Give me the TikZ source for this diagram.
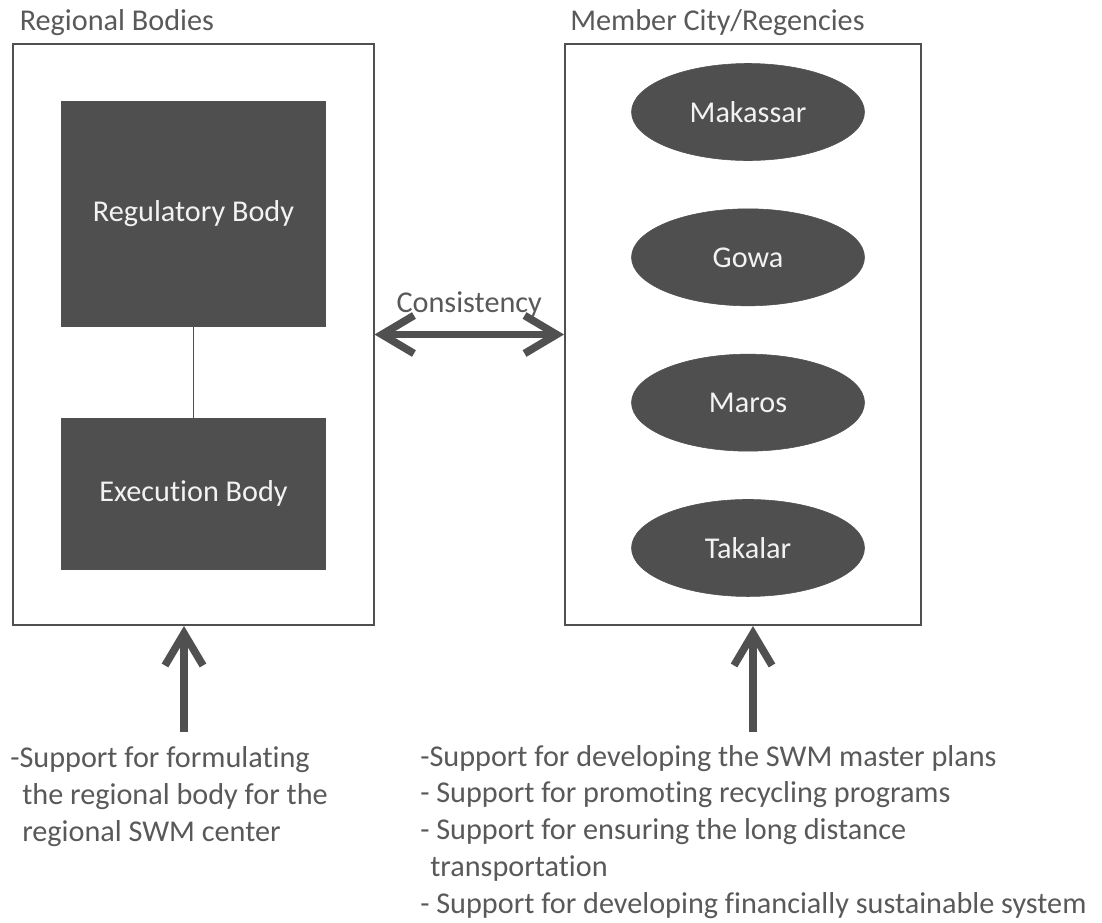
\documentclass[tikz,border=0pt]{standalone}
\usepackage{fontspec}
\setmainfont{Carlito}[Ligatures=NoCommon]
\usetikzlibrary{calc,shapes.geometric,arrows.meta}
\definecolor{txtgray}{HTML}{595959}
\definecolor{darkfill}{HTML}{4F4F4F}
\definecolor{linegray}{HTML}{505050}
\tikzstyle{nout} = [rectangle,draw=linegray,line width=0.05cm,minimum width=9cm,minimum height=14.525cm,inner sep=0pt]
\tikzstyle{ndark} = [rectangle,draw=linegray,fill=darkfill,text=white!95!black,minimum width=6.6cm,inner sep=0pt]
\tikzstyle{ncity} = [ellipse,draw=linegray,fill=darkfill,text=white!95!black,minimum width=5.825cm,minimum height=2.425cm,inner sep=0pt]
\tikzstyle{ntext} = [text=txtgray,anchor=base west,inner sep=0pt]
\tikzstyle{narr} = [draw=linegray,line width=0.19cm]

\begin{document}
\begin{tikzpicture}[font=\fontsize{21.5pt}{26.1pt}\selectfont,>={Straight Barb[length=0.8cm,width=0.95cm]}]
  \useasboundingbox (0,0) rectangle (27.55,-23.05);
  \node[nout](lb) at (4.8375,-8.3625) {};
  \node[nout,minimum width=8.9cm](rb) at (18.575,-8.3625) {};
  \node[ntext](lt) at ($(lb.north west)+(0.175,0.325)$) {Regional Bodies};
  \node[ntext](rt) at ($(rb.north west)+(0.15,0.325)$) {Member City/Regencies};
  % regional bodies
  \node[ndark,minimum height=5.625cm,anchor=north](reg) at ($(lb.north)+(0,-1.45)$) {Regulatory Body};
  \node[ndark,minimum height=3.775cm,anchor=north](exe) at ($(reg.south)+(0,-2.275)$) {Execution Body};
  \draw[linegray,line width=0.8pt] (reg) -- (exe);
  % member cities
  \node[ncity](mak) at (18.7,-2.8) {Makassar};
  \node[ncity](gow) at ($(mak)+(0,-3.633)$) {Gowa};
  \node[ncity](mar) at ($(gow)+(0,-3.633)$) {Maros};
  \node[ncity](tak) at ($(mar)+(0,-3.633)$) {Takalar};
  % arrows
  \draw[narr,<->] (lb.east) -- (rb.west);
  \node[ntext,anchor=base](con) at ($(lb.east)!0.5!(rb.west)+(0,0.5625)$) {Consistency};
  \coordinate (ls) at (4.6,-18.3);
  \coordinate (rs) at (18.825,-18.3);
  \draw[narr,->] (ls) -- (ls |- lb.south);
  \draw[narr,->] (rs) -- (rs |- rb.south);
  % support texts (base = last line)
  \node[ntext,align=left](lsup) at (0.25,-21.025) {-Support for formulating\\\hspace*{0.3cm}the regional body for the\\\hspace*{0.3cm}regional SWM center};
  \node[ntext,align=left](rsup) at (10.5,-22.825) {-Support for developing the SWM master plans\\- Support for promoting recycling programs\\- Support for ensuring the long distance\\\hspace*{0.25cm}transportation\\- Support for developing financially sustainable system};
\end{tikzpicture}
\end{document}
